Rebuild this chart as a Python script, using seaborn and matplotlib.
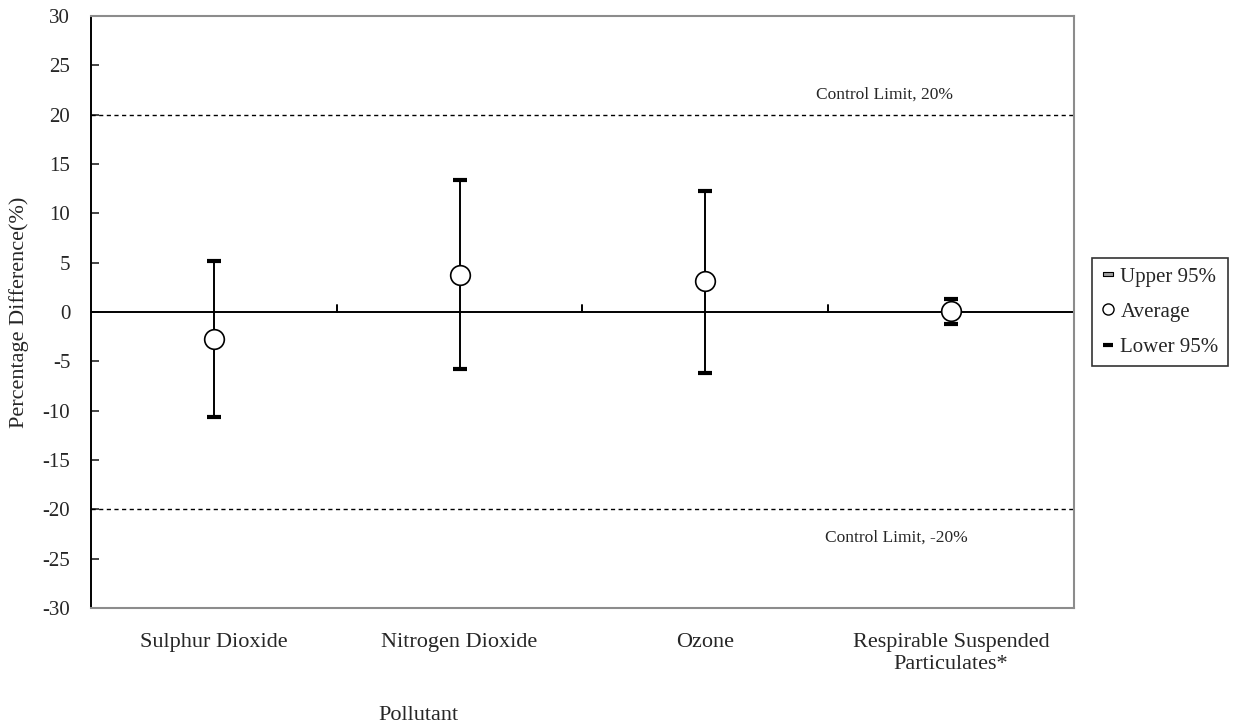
import numpy as np
import pandas as pd
import matplotlib
matplotlib.use("Agg")
import matplotlib.pyplot as plt
from matplotlib.lines import Line2D
import seaborn as sns

# Data
pollutants = ["Sulphur Dioxide", "Nitrogen Dioxide", "Ozone",
              "Respirable Suspended\nParticulates*"]
upper95 = [5.2, 13.4, 12.3, 1.3]
average = [-2.7, 3.7, 3.1, 0.1]
lower95 = [-10.6, -5.8, -6.2, -1.2]
control_limit = 20

df = pd.DataFrame({"Pollutant": pollutants, "Upper": upper95,
                   "Average": average, "Lower": lower95})

sns.set_style("white")
plt.rcParams["font.family"] = ["Liberation Serif", "DejaVu Serif"]
plt.rcParams["axes.unicode_minus"] = False

fig = plt.figure(figsize=(12.38, 7.23), dpi=100)
ax = fig.add_axes([0.0735, 0.159, 0.7940, 0.819])

# error whiskers
xpos = np.arange(len(pollutants))
ax.vlines(xpos, df["Lower"], df["Upper"], color="black", lw=1.4, zorder=3)

# caps
caps = pd.melt(df, id_vars="Pollutant", value_vars=["Upper", "Lower"],
               var_name="Bound", value_name="Value")
sns.scatterplot(data=caps, x="Pollutant", y="Value", marker="_", s=90,
                color="black", linewidth=3, ax=ax, zorder=4, legend=False)

# averages
sns.scatterplot(data=df, x="Pollutant", y="Average", marker="o", s=200,
                facecolor="white", edgecolor="black", linewidth=1.2,
                ax=ax, zorder=5, legend=False)

# zero line and control limits
ax.axhline(0, color="black", lw=1.4, zorder=2)
for b in [0.5, 1.5, 2.5]:
    ax.plot([b, b], [0, 0.7], color="black", lw=1.4, zorder=2)
ax.axhline(control_limit, color="black", lw=1, ls=(0, (3, 2.5)), zorder=2)
ax.axhline(-control_limit, color="black", lw=1, ls=(0, (3, 2.5)), zorder=2)
ax.text(2.73, 22.0, "Control Limit, 20%", ha="center", va="center", fontsize=12.5)
ax.text(2.776, -22.9, "Control Limit, -20%", ha="center", va="center", fontsize=12.5)

ax.set_xlim(-0.5, 3.5)
ax.set_ylim(-30, 30)
ax.set_yticks(range(-30, 31, 5))
ax.tick_params(axis="y", direction="in", length=6, width=1.2, pad=15,
               labelsize=15, left=True)
ax.tick_params(axis="x", length=0, pad=18, labelsize=16)

for side in ["top", "right", "bottom"]:
    ax.spines[side].set_color("#8c8c8c")
    ax.spines[side].set_linewidth(1.5)
ax.spines["left"].set_color("black")
ax.spines["left"].set_linewidth(1.4)

ax.set_xlabel("Pollutant", fontsize=16)
ax.xaxis.set_label_coords(0.333, -0.166)
ax.set_ylabel("Percentage Difference(%)", fontsize=16)
ax.yaxis.set_label_coords(-0.063, 0.5)

# legend
rect = [(-1, -0.45), (1, -0.45), (1, 0.45), (-1, 0.45), (-1, -0.45)]
handles = [
    Line2D([], [], ls="none", marker=rect, markersize=7,
           markerfacecolor="#a0a0a0", markeredgecolor="black", markeredgewidth=0.8),
    Line2D([], [], ls="none", marker="o", markersize=8,
           markerfacecolor="white", markeredgecolor="black", markeredgewidth=1),
    Line2D([], [], ls="none", marker="_", markersize=7,
           markeredgecolor="black", markeredgewidth=3),
]
leg = ax.legend(handles, ["Upper 95%", "Average", "Lower 95%"],
                loc="center left", bbox_to_anchor=(1.008, 0.5),
                fontsize=15, frameon=True, fancybox=False, handlelength=0.6,
                handletextpad=0.3, labelspacing=0.75, borderpad=0.45)
leg.get_frame().set_edgecolor("black")
leg.get_frame().set_linewidth(1.2)

fig.savefig("out.png", dpi=100)
